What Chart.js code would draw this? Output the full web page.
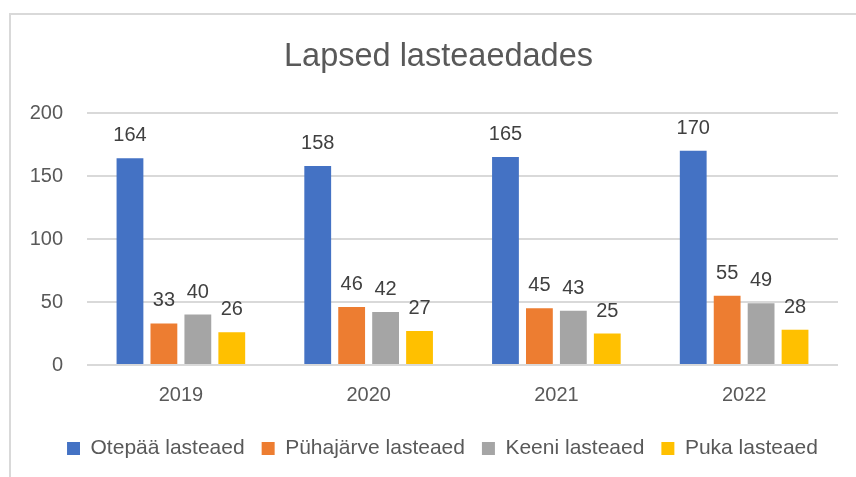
<!DOCTYPE html>
<html>
<head>
<meta charset="utf-8">
<script src="https://cdn.jsdelivr.net/npm/chart.js@4.4.0/dist/chart.umd.min.js"></script>
<style>
  body { margin: 0; background: #fff; }
  #frame { position: absolute; left: 9px; top: 13px; width: 900px; height: 500px; border: 2px solid #d9d9d9; }
  #wrap { position: absolute; left: 0; top: 0; width: 856px; height: 477px; }
</style>
</head>
<body>
<div id="frame"></div>
<div id="wrap"><canvas id="myChart" width="856" height="477"></canvas></div>
<script>
// andmed
var aastad = ['2019', '2020', '2021', '2022'];
var otepaa = [164, 158, 165, 170];
var pyhajarve = [33, 46, 45, 55];
var keeni = [40, 42, 43, 49];
var puka = [26, 27, 25, 28];
var yTicks = [0, 50, 100, 150, 200];

var fontFam = '"Liberation Sans", Arial, sans-serif';

// väärtused tulpade kohale
var valueLabels = {
    id: 'valueLabels',
    afterDatasetsDraw: function (chart) {
        var ctx = chart.ctx;
        ctx.save();
        ctx.font = '20px ' + fontFam;
        ctx.fillStyle = '#404040';
        ctx.textAlign = 'center';
        ctx.textBaseline = 'alphabetic';
        chart.data.datasets.forEach(function (ds, i) {
            chart.getDatasetMeta(i).data.forEach(function (bar, j) {
                ctx.fillText(ds.data[j], bar.x, bar.y - 17);
            });
        });
        ctx.restore();
    }
};

// pealkiri ja legend veidi paremale, nagu Excelis
var nihe = {
    id: 'nihe',
    afterLayout: function (chart) {
        if (chart.legend) { chart.legend.left += 10; chart.legend.right += 10; }
        if (chart.titleBlock) { chart.titleBlock.left += 6; chart.titleBlock.right += 6; }
    }
};

var ctx = document.getElementById('myChart').getContext('2d');
var myChart = new Chart(ctx, {
    type: 'bar',
    data: {
        labels: aastad,
        datasets: [
            { label: 'Otepää lasteaed', data: otepaa, backgroundColor: '#4472C4' },
            { label: 'Pühajärve lasteaed', data: pyhajarve, backgroundColor: '#ED7D31' },
            { label: 'Keeni lasteaed', data: keeni, backgroundColor: '#A5A5A5' },
            { label: 'Puka lasteaed', data: puka, backgroundColor: '#FFC000' }
        ]
    },
    options: {
        responsive: false,
        animation: false,
        devicePixelRatio: 1,
        categoryPercentage: 0.723,
        barPercentage: 0.79,
        layout: { padding: { left: 27, right: 18, top: 0, bottom: 8 } },
        plugins: {
            title: {
                display: true,
                text: 'Lapsed lasteaedades',
                color: '#595959',
                font: { family: fontFam, size: 32.5, weight: 'normal' },
                padding: { top: 38, bottom: 36 }
            },
            legend: {
                position: 'bottom',
                labels: {
                    color: '#595959',
                    font: { family: fontFam, size: 21 },
                    boxWidth: 13,
                    boxHeight: 13,
                    padding: 17
                }
            },
            tooltip: { enabled: false }
        },
        scales: {
            x: {
                grid: { display: false },
                border: { display: false },
                ticks: { color: '#595959', font: { family: fontFam, size: 20 }, padding: 10 },
                afterFit: function (scale) { scale.height = 56; }
            },
            y: {
                min: 0,
                max: 200,
                afterBuildTicks: function (scale) {
                    scale.ticks = yTicks.map(function (v) { return { value: v }; });
                },
                grid: { color: '#d9d9d9', lineWidth: 2, drawTicks: false },
                border: { display: false },
                ticks: { color: '#595959', font: { family: fontFam, size: 20 }, padding: 24 },
                afterFit: function (scale) { scale.width = 60; }
            }
        }
    },
    plugins: [valueLabels, nihe]
});
</script>
</body>
</html>
